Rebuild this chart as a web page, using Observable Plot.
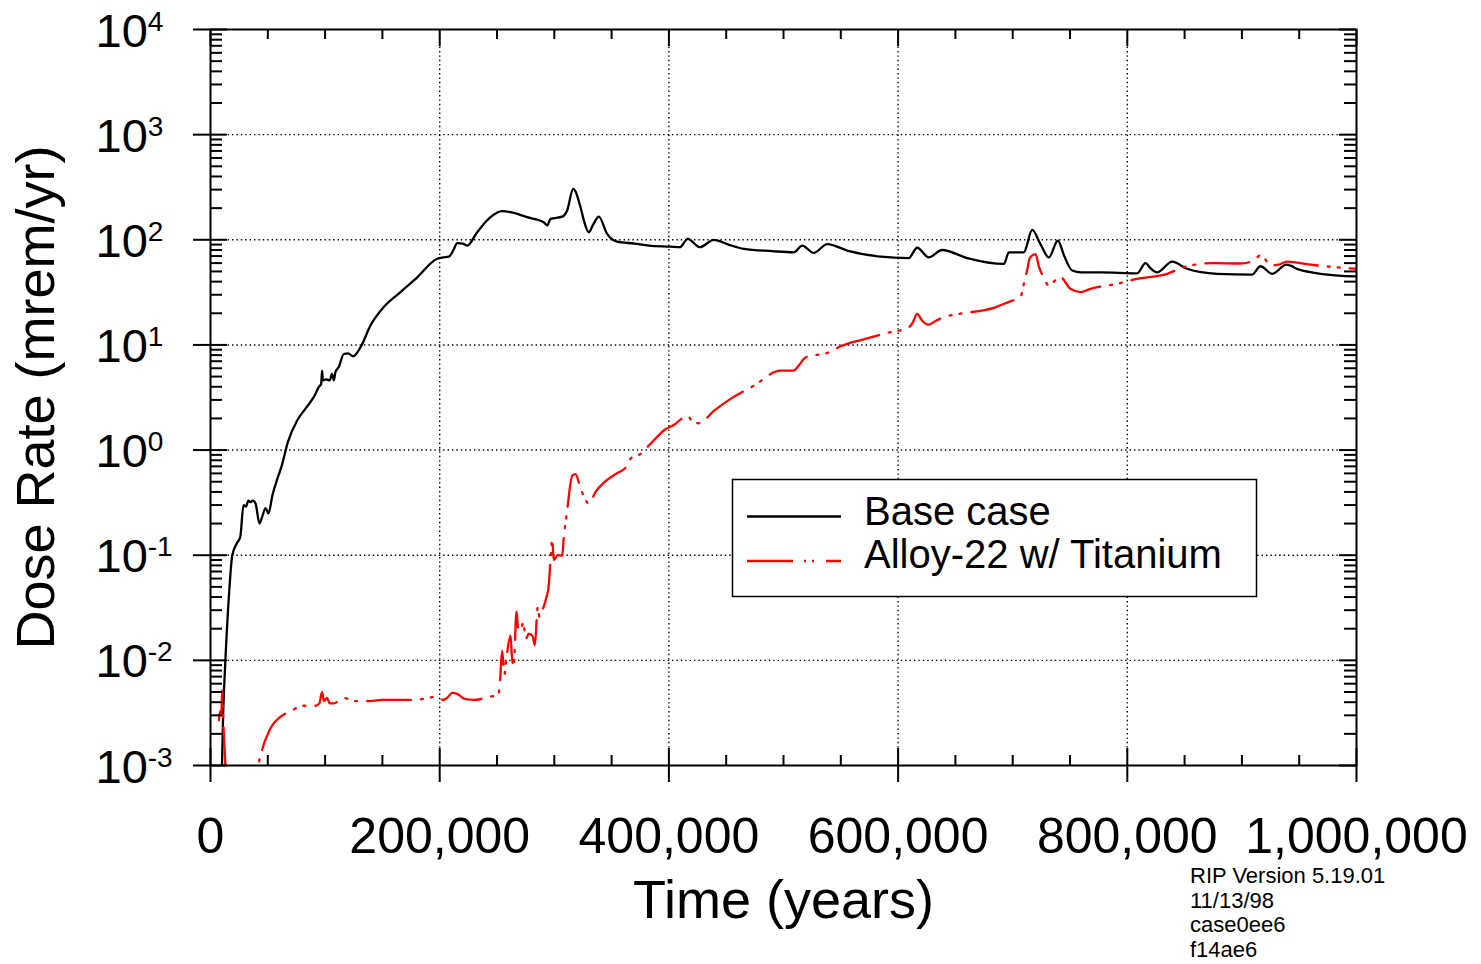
<!DOCTYPE html>
<html><head><meta charset="utf-8">
<script src="https://cdn.jsdelivr.net/npm/d3@7"></script>
<script src="https://cdn.jsdelivr.net/npm/@observablehq/plot@0.6"></script>
<style>
body{margin:0;background:#fff;}
#wrap{position:relative;width:1481px;height:964px;font-family:Arial,"Liberation Sans",sans-serif;color:#000;}
#wrap svg{position:absolute;left:0;top:0;}
#note{position:absolute;left:1190px;top:864px;font-size:22px;line-height:24.7px;white-space:pre;}
</style></head><body><div id="wrap"></div>
<script>
// ---- Data (time in years, dose rate in mrem/yr) ----
const seriesNames = ["Base case", "Alloy-22 w/ Titanium"];
const seriesColors = ["#000000", "#ff0000"];

const baseTime = [8000,11000,13000,16000,19000,23000,26000,28800,31000,33000,35000,37000,39300,42800,45000,48000,50600,54000,58500,62000,67500,75600,82900,90200,95400,96500,97400,98000,101000,104000,106000,107600,109000,112000,116300,120000,124500,130900,139600,151200,165800,180400,197800,203000,207900,212000,215300,220000,224000,232700,244300,254500,262000,276300,290800,293800,296700,306900,311200,316500,322900,326000,330100,334000,338800,346100,354900,370000,382500,401400,409500,416500,427000,439200,452000,465400,490000,509000,516300,526400,538100,555600,584600,609300,616600,626800,638400,660300,692300,696700,709700,717000,724000,731500,739400,745000,751900,760000,776600,808600,815900,820000,826000,839200,852200,878400,908900,916200,926400,938900,950000,968600,1000000];
const baseDose = [0.0001,0.003,0.01,0.04,0.1,0.13,0.15,0.30,0.29,0.33,0.32,0.33,0.31,0.2,0.23,0.28,0.25,0.37,0.54,0.7,1.19,1.91,2.48,3.2,4.1,4.2,5.7,4.6,4.7,4.6,5.3,4.6,5.5,6.2,8.2,8.3,7.8,9.5,15.3,22.9,31.8,44,66,68,69,80,93,92,88,118,164,187,183,164,147,137,158,166,190,305,204,150,118,140,166,114,96,92,88,86,85,102,85,100,90,82,78,76,88,75,91,79,69,67,84,68,80,67,59,76,76,124,92,68,98,70,51,49,49,48,60,54,49,62,53,47.5,46.7,56,47.5,58,52,47.5,44.8];

const alloyTime = [7300,8500,9500,10200,11500,13000,15000,38000,42000,45000,50900,55000,61100,70000,81400,91600,95000,97400,99000,101800,104000,107600,116300,125000,136700,150000,177400,197800,203000,206500,211000,215300,222000,229800,242900,251000,252500,254500,256500,258000,261800,263000,264600,267000,268500,270500,273000,275000,277800,281000,283000,285600,287000,289000,291000,293200,295000,296700,298200,299500,303000,306900,308300,311200,315600,318500,322000,325800,330100,336000,343200,353400,363600,366500,375200,383400,397000,405000,410000,416000,421000,426000,440000,453800,474200,497400,509000,513000,519200,539500,549700,570000,590500,609300,613000,616600,621000,626800,633000,639900,653000,683500,698100,703000,706800,709700,712600,714900,719900,723000,727100,731500,737000,741100,750400,759200,767900,790000,808600,834800,849300,875500,898800,910400,916200,920000,925000,932000,939500,959800,980200,1000000];
const alloyDose = [0.0027,0.0033,0.003,0.0052,0.0021,0.001,0.0002,0.0002,0.001,0.0014,0.0021,0.0025,0.0029,0.0033,0.0037,0.0037,0.0039,0.005,0.0041,0.0044,0.0039,0.0039,0.0044,0.0041,0.0041,0.0042,0.0042,0.0045,0.0042,0.0044,0.0049,0.0048,0.0043,0.0042,0.0045,0.0047,0.006,0.0124,0.0074,0.010,0.0172,0.011,0.0086,0.029,0.02,0.019,0.023,0.016,0.0179,0.017,0.0139,0.032,0.026,0.029,0.033,0.04,0.05,0.089,0.143,0.09,0.10,0.099,0.148,0.266,0.57,0.59,0.47,0.36,0.31,0.4,0.49,0.59,0.71,0.83,0.92,1.13,1.58,1.75,1.95,2.13,1.85,1.8,2.4,3.07,4.1,5.7,5.7,6.3,7.6,8.5,9.7,11.3,13,14.7,16.5,19.7,17,15.6,17,18.4,19.7,22.5,26,27,28.5,38,51,67,73,55,44,36.7,41,44.8,34.2,31.8,34.2,38,42.5,47.4,55,60,59.5,63.5,71,66,57,58,62,58,55,53];

// ---- Axis ticks ----
const xMajor = [0,200000,400000,600000,800000,1000000];
const xGrid = [200000,400000,600000,800000];
const xMinor = [50000,100000,150000,250000,300000,350000,450000,500000,550000,650000,700000,750000,850000,900000,950000];
const yMajor = [1e-3,1e-2,1e-1,1,10,100,1000,10000];
const yGrid = [1e-2,1e-1,1,10,100,1000];
const yMinor = yMajor.slice(0,-1).flatMap(d => [2,3,4,5,6,7,8,9].map(k => k*d));

const xTitle = "Time (years)";
const yTitle = "Dose Rate (mrem/yr)";
const noteLines = ["RIP Version 5.19.01","11/13/98","case0ee6","f14ae6"];

const base = baseTime.map((t,i) => ({t, v: baseDose[i]}));
const alloy = alloyTime.map((t,i) => ({t, v: alloyDose[i]}));

const W = 1481, H = 964, mL = 210, mR = 125, mT = 29, mB = 199;
const pw = W - mL - mR, ph = H - mT - mB;
const dash = "44,10,2,8,2,10";
const font = "Arial, 'Liberation Sans', sans-serif";

const chart = Plot.plot({
  width: W, height: H,
  marginLeft: mL, marginRight: mR, marginTop: mT, marginBottom: mB,
  style: {background: "white", fontFamily: font, color: "black", overflow: "visible"},
  x: {domain: [0, 1e6]},
  y: {type: "log", domain: [1e-3, 1e4]},
  marks: [
    Plot.gridX(xGrid, {stroke: "black", strokeOpacity: 1, strokeWidth: 1.4, strokeDasharray: "1.4,3"}),
    Plot.gridY(yGrid, {stroke: "black", strokeOpacity: 1, strokeWidth: 1.4, strokeDasharray: "1.4,3"}),
    Plot.line(base, {x: "t", y: "v", stroke: seriesColors[0], strokeWidth: 2.3, curve: "monotone-x", clip: true}),
    Plot.line(alloy, {x: "t", y: "v", stroke: seriesColors[1], strokeWidth: 2.3, curve: "monotone-x", strokeDasharray: dash, clip: true}),
    Plot.frame({stroke: "black", strokeWidth: 2}),
    // inside ticks
    Plot.tickX(xMinor, {insetTop: ph - 10, stroke: "black", strokeWidth: 2}),
    Plot.tickX(xMinor, {insetBottom: ph - 10, stroke: "black", strokeWidth: 2}),
    Plot.tickX(xMajor, {insetTop: ph - 17, stroke: "black", strokeWidth: 2}),
    Plot.tickX(xMajor, {insetBottom: ph - 17, stroke: "black", strokeWidth: 2}),
    Plot.tickY(yMinor, {insetRight: pw - 12, stroke: "black", strokeWidth: 2}),
    Plot.tickY(yMinor, {insetLeft: pw - 12, stroke: "black", strokeWidth: 2}),
    Plot.tickY(yMajor, {insetRight: pw - 17, stroke: "black", strokeWidth: 2}),
    Plot.tickY(yMajor, {insetLeft: pw - 17, stroke: "black", strokeWidth: 2}),
    // outside ticks + labels
    Plot.axisX({ticks: xMajor, anchor: "bottom", tickSize: 17, tickPadding: 35, tickFormat: d3.format(","), fontSize: 50, strokeWidth: 2, label: null}),
    Plot.axisY({ticks: yMajor, anchor: "left", tickSize: 17, tickPadding: 98, tickFormat: d => "10^" + Math.round(Math.log10(d)), fontSize: 47, strokeWidth: 2, label: null}),
    Plot.text([xTitle], {text: d => d, frameAnchor: "bottom", lineAnchor: "middle", textAnchor: "middle", dy: 135, fontSize: 54}),
    Plot.text([yTitle], {text: d => d, frameAnchor: "left", lineAnchor: "middle", textAnchor: "middle", rotate: -90, dx: -174, fontSize: 54})
  ]
});

// superscript exponents on y tick labels
d3.select(chart).selectAll('g[aria-label="y-axis tick label"] text').each(function() {
  const parts = this.textContent.split("^");
  this.textContent = parts[0];
  this.setAttribute("y", 17);
  this.setAttribute("text-anchor", "start");
  const ts = document.createElementNS("http://www.w3.org/2000/svg", "tspan");
  ts.setAttribute("dy", -16);
  ts.setAttribute("font-size", 28);
  ts.textContent = parts[1];
  this.appendChild(ts);
});

const wrap = document.getElementById("wrap");
wrap.appendChild(chart);

// legend
const lg = d3.create("svg").attr("width", W).attr("height", H)
  .style("pointer-events", "none").style("font-family", font);
lg.append("rect").attr("x", 732.5).attr("y", 479.5).attr("width", 524).attr("height", 117)
  .attr("fill", "white").attr("stroke", "black").attr("stroke-width", 1.5);
const ly = [516.5, 561];
const ty = [525, 568];
seriesNames.forEach((name, i) => {
  lg.append("line").attr("x1", 747).attr("x2", 841).attr("y1", ly[i]).attr("y2", ly[i])
    .attr("stroke", seriesColors[i]).attr("stroke-width", 2.3)
    .attr("stroke-dasharray", i === 1 ? "46,11,2,6,2,12" : null);
  lg.append("text").attr("x", 864).attr("y", ty[i]).attr("font-size", 40).attr("fill", "black").text(name);
});
wrap.appendChild(lg.node());

const note = document.createElement("div");
note.id = "note";
note.textContent = noteLines.join("\n");
wrap.appendChild(note);
</script></body></html>
